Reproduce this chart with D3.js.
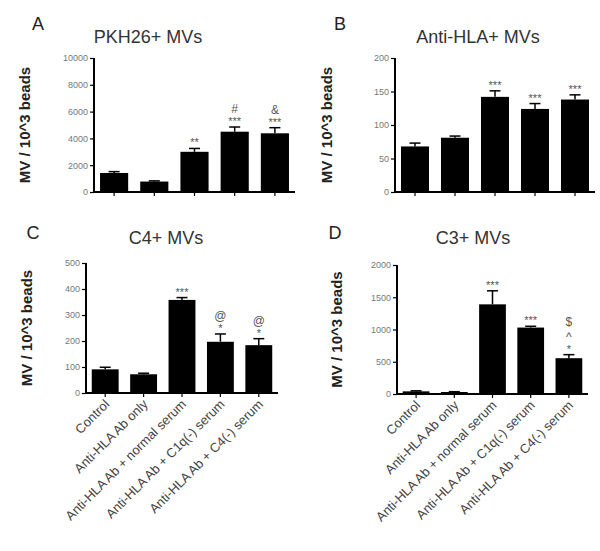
<!DOCTYPE html>
<html>
<head>
<meta charset="utf-8">
<script src="https://cdn.jsdelivr.net/npm/d3@7"></script>
<style>
  html, body { margin: 0; padding: 0; background: #fff; }
  svg { display: block; font-family: Arial, "Liberation Sans", sans-serif; }
</style>
</head>
<body>
<svg id="chart" width="600" height="551"></svg>
<script>
// ---- data ----
const categories = ["Control", "Anti-HLA Ab only", "Anti-HLA Ab + normal serum", "Anti-HLA Ab + C1q(-) serum", "Anti-HLA Ab + C4(-) serum"];

const pkh26Values = [1420, 780, 3000, 4500, 4380];
const pkh26Errors = [100, 50, 250, 350, 420];
const pkh26Ticks = [0, 2000, 4000, 6000, 8000, 10000];
const pkh26Marks = [[], [], ["**"], ["#", "***"], ["&", "***"]];

const antiHlaValues = [68, 81, 142, 124, 138];
const antiHlaErrors = [5, 2.5, 9, 8, 7];
const antiHlaTicks = [0, 50, 100, 150, 200];
const antiHlaMarks = [[], [], ["***"], ["***"], ["***"]];

const c4Values = [91, 72, 358, 197, 184];
const c4Errors = [8, 4, 9, 30, 25];
const c4Ticks = [0, 100, 200, 300, 400, 500];
const c4Marks = [[], [], ["***"], ["@", "*"], ["@", "*"]];

const c3Values = [41, 31, 1390, 1030, 555];
const c3Errors = [8, 5, 210, 20, 55];
const c3Ticks = [0, 500, 1000, 1500, 2000];
const c3Marks = [[], [], ["***"], ["***"], ["$", "^", "*"]];

const yLabel = "MV / 10^3 beads";

// ---- layout ----
const panels = [
  {letter: "A", title: "PKH26+ MVs", values: pkh26Values, errors: pkh26Errors, ticks: pkh26Ticks, marks: pkh26Marks,
   x0: 94, x1: 295, yTop: 58, yBot: 192, letterPos: [38, 30], titleX: 148, titleY: 43, labelX: 26, labelsOn: false},
  {letter: "B", title: "Anti-HLA+ MVs", values: antiHlaValues, errors: antiHlaErrors, ticks: antiHlaTicks, marks: antiHlaMarks,
   x0: 395, x1: 595, yTop: 58, yBot: 192, letterPos: [340, 30], titleX: 478, titleY: 43, labelX: 328, labelsOn: false},
  {letter: "C", title: "C4+ MVs", values: c4Values, errors: c4Errors, ticks: c4Ticks, marks: c4Marks,
   x0: 86, x1: 278, yTop: 263, yBot: 393, letterPos: [33, 239], titleX: 166, titleY: 244, labelX: 28, labelsOn: true},
  {letter: "D", title: "C3+ MVs", values: c3Values, errors: c3Errors, ticks: c3Ticks, marks: c3Marks,
   x0: 397, x1: 588, yTop: 265, yBot: 394, letterPos: [335, 239], titleX: 473, titleY: 244, labelX: 338, labelsOn: true}
];

// vertical room each mark symbol takes in a stack
const markHeight = s => (/^\*+$/.test(s) ? 12 : s === "^" ? 15 : 13);

const svg = d3.select("#chart");

panels.forEach(p => {
  const g = svg.append("g");
  const x = d3.scaleBand().domain(categories).range([p.x0, p.x1]).paddingInner(0.3).paddingOuter(0.15);
  const y = d3.scaleLinear().domain([p.ticks[0], p.ticks[p.ticks.length - 1]]).range([p.yBot, p.yTop]);

  // panel letter & title
  g.append("text").attr("x", p.letterPos[0]).attr("y", p.letterPos[1]).attr("text-anchor", "middle")
    .attr("font-size", 18).attr("fill", "#222").text(p.letter);
  g.append("text").attr("x", p.titleX).attr("y", p.titleY).attr("text-anchor", "middle")
    .attr("font-size", 18).attr("fill", "#333").text(p.title);

  // y label
  g.append("text")
    .attr("transform", `translate(${p.labelX},${(p.yTop + p.yBot) / 2}) rotate(-90)`)
    .attr("text-anchor", "middle").attr("dominant-baseline", "middle")
    .attr("font-size", 15).attr("font-weight", "bold").attr("fill", "#222").text(yLabel);

  // bars
  const data = categories.map((c, i) => ({c, v: p.values[i], e: p.errors[i], m: p.marks[i]}));
  g.selectAll("rect.bar").data(data).enter().append("rect")
    .attr("x", d => x(d.c)).attr("width", x.bandwidth())
    .attr("y", d => y(d.v)).attr("height", d => y(0) - y(d.v))
    .attr("fill", "#000");

  // error bars
  const cap = 11;
  const cx = d => x(d.c) + x.bandwidth() / 2;
  g.selectAll("line.err").data(data).enter().append("line")
    .attr("x1", cx).attr("x2", cx)
    .attr("y1", d => y(d.v)).attr("y2", d => y(d.v + d.e))
    .attr("stroke", "#000").attr("stroke-width", 1.5);
  g.selectAll("line.cap").data(data).enter().append("line")
    .attr("x1", d => cx(d) - cap / 2).attr("x2", d => cx(d) + cap / 2)
    .attr("y1", d => y(d.v + d.e)).attr("y2", d => y(d.v + d.e))
    .attr("stroke", "#000").attr("stroke-width", 1.5);

  // significance marks (stacked from bottom up)
  data.forEach(d => {
    let base = y(d.v + d.e) - 2;
    for (let k = d.m.length - 1; k >= 0; k--) {
      const s = d.m[k];
      const isStar = /^\*+$/.test(s);
      g.append("text")
        .attr("x", cx(d)).attr("y", base)
        .attr("text-anchor", "middle")
        .attr("font-size", isStar ? 11 : 12)
        .attr("fill", "#555").text(s);
      base -= markHeight(s);
    }
  });

  // y axis
  const yAxis = d3.axisLeft(y).tickValues(p.ticks).tickSize(4).tickPadding(2).tickFormat(d3.format("d"));
  const ya = g.append("g").attr("transform", `translate(${p.x0},0)`).call(yAxis);
  ya.select(".domain").attr("stroke", "#000").attr("stroke-width", 2).attr("d", `M0,${p.yTop}V${p.yBot}`);
  ya.selectAll(".tick line").attr("stroke", "#000").attr("stroke-width", 1.2);
  ya.selectAll(".tick text").attr("font-size", 9).attr("fill", "#777").attr("font-family", "Arial, 'Liberation Sans', sans-serif");

  // x axis
  const xAxis = d3.axisBottom(x).tickSize(4).tickFormat("");
  const xa = g.append("g").attr("transform", `translate(0,${p.yBot})`).call(xAxis);
  xa.select(".domain").attr("stroke", "#000").attr("stroke-width", 2).attr("d", `M${p.x0},0H${p.x1}`);
  xa.selectAll(".tick line").attr("stroke", "#000").attr("stroke-width", 1.2);

  if (p.labelsOn) {
    g.selectAll("text.xl").data(categories).enter().append("text")
      .attr("transform", c => `translate(${x(c) + x.bandwidth() / 2 + 5},${p.yBot + 12}) rotate(-45)`)
      .attr("text-anchor", "end").attr("font-size", 13).attr("fill", "#444").text(c => c);
  }
});
</script>
</body>
</html>
